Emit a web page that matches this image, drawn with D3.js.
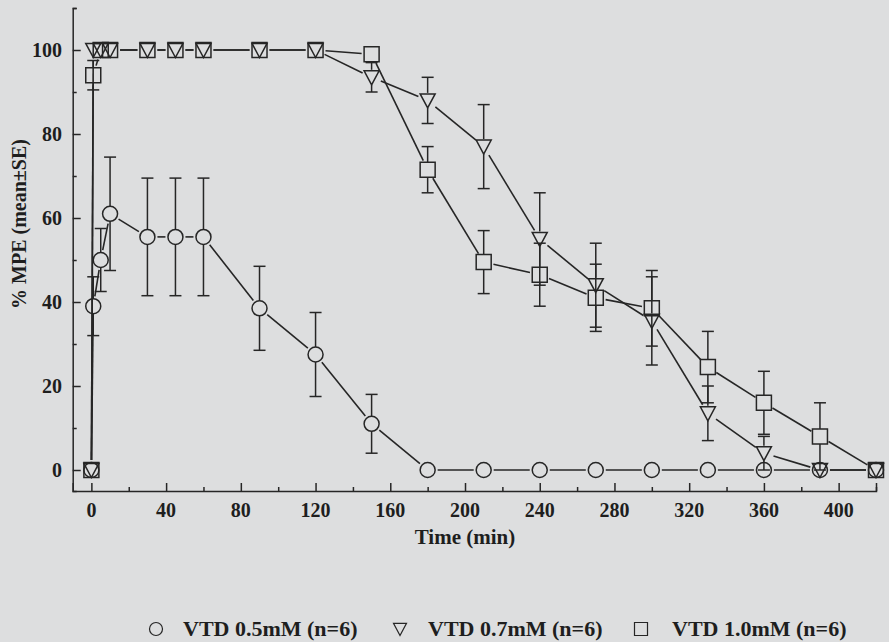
<!DOCTYPE html>
<html>
<head>
<meta charset="utf-8">
<script src="https://cdn.jsdelivr.net/npm/d3@7"></script>
<style>
  html, body { margin: 0; padding: 0; background: #dddedf; }
  svg { display: block; }
  text { font-family: "Liberation Serif", "Times New Roman", serif; font-weight: bold; fill: #1e1e1e; }
</style>
</head>
<body>
<svg></svg>
<script>
// time points (min)
const times = [0, 1, 5, 10, 30, 45, 60, 90, 120, 150, 180, 210, 240, 270, 300, 330, 360, 390, 420];

// VTD 0.5mM
const mpe05 = [0, 39, 50, 61, 55.5, 55.5, 55.5, 38.5, 27.5, 11, 0, 0, 0, 0, 0, 0, 0, 0, 0];
const se05  = [0, 7, 7.5, 13.5, 14, 14, 14, 10, 10, 7, 0, 0, 0, 0, 0, 0, 0, 0, 0];

// VTD 0.7mM
const mpe07 = [0, 100, 100, 100, 100, 100, 100, 100, 100, 93.5, 88, 77, 55, 44, 35.5, 13.5, 4, 0, 0];
const se07  = [0, 0, 0, 0, 0, 0, 0, 0, 0, 3.5, 5.5, 10, 11, 10, 10.5, 6.5, 4, 0, 0];

// VTD 1.0mM
const mpe10 = [0, 94, 100, 100, 100, 100, 100, 100, 100, 99, 71.5, 49.5, 46.5, 41, 38.5, 24.5, 16, 8, 0];
const se10  = [0, 3.5, 0, 0, 0, 0, 0, 0, 0, 0, 5.5, 7.5, 7.5, 8, 9, 8.5, 7.5, 8, 0];

const seriesNames = ['VTD 0.5mM (n=6)', 'VTD 0.7mM (n=6)', 'VTD 1.0mM (n=6)'];
const seriesShapes = ['circle', 'triangle', 'square'];

const xTicksMajor = [0, 40, 80, 120, 160, 200, 240, 280, 320, 360, 400];
const xTicksMinor = [20, 60, 100, 140, 180, 220, 260, 300, 340, 380, 420];
const yTicksMajor = [0, 20, 40, 60, 80, 100];
const yTicksMinor = [10, 30, 50, 70, 90, 110];

const width = 889;
const height = 642;
const ink = '#262626';
const bg = '#dddedf';

const svg = d3.select('svg').attr('width', width).attr('height', height);
svg.append('rect').attr('width', width).attr('height', height).attr('fill', bg);

const x = d3.scaleLinear().domain([-10, 420]).range([72.7, 876]);
const y = d3.scaleLinear().domain([-5, 110]).range([491, 8]);

// axes, ticks pointing inward
const xAxisMajor = d3.axisTop(x).tickValues(xTicksMajor).tickSize(8).tickFormat('');
const xAxisMinor = d3.axisTop(x).tickValues(xTicksMinor).tickSize(4).tickFormat('');
const yAxisMajor = d3.axisRight(y).tickValues(yTicksMajor).tickSize(8).tickFormat('');
const yAxisMinor = d3.axisRight(y).tickValues(yTicksMinor).tickSize(4).tickFormat('');

const gx = svg.append('g').attr('transform', 'translate(0,' + y(-5) + ')');
gx.append('g').call(xAxisMajor);
gx.append('g').call(xAxisMinor);
const gy = svg.append('g').attr('transform', 'translate(' + x(-10) + ',0)');
gy.append('g').call(yAxisMajor);
gy.append('g').call(yAxisMinor);

svg.selectAll('.domain').attr('stroke', ink).attr('stroke-width', 1.5);
svg.selectAll('.tick line').attr('stroke', ink).attr('stroke-width', 1.5);
gx.select('g:last-child .domain').remove();
gy.select('g:last-child .domain').remove();

// tick labels
svg.append('g').selectAll('text')
    .data(xTicksMajor)
    .enter()
    .append('text')
    .attr('x', d => x(d))
    .attr('y', 517)
    .attr('text-anchor', 'middle')
    .style('font-size', '20px')
    .text(d => d);

svg.append('g').selectAll('text')
    .data(yTicksMajor)
    .enter()
    .append('text')
    .attr('x', 62)
    .attr('y', d => y(d) + 6.5)
    .attr('text-anchor', 'end')
    .style('font-size', '20px')
    .text(d => d);

// axis titles
svg.append('text')
    .attr('x', 465)
    .attr('y', 544)
    .attr('text-anchor', 'middle')
    .style('font-size', '21px')
    .text('Time (min)');

svg.append('text')
    .attr('transform', 'translate(26,224) rotate(-90)')
    .attr('text-anchor', 'middle')
    .style('font-size', '20px')
    .text('% MPE (mean\u00B1SE)');

// marker shapes
const r = 7.5;
const shapePath = (shape, s) => {
    if (shape === 'circle') return d3.symbol(d3.symbolCircle, Math.PI * s * s)();
    if (shape === 'square') return 'M' + (-s) + ',' + (-s) + 'H' + s + 'V' + s + 'H' + (-s) + 'Z';
    return 'M' + (-s) + ',' + (-s * 0.87) + 'H' + s + 'L0,' + s + 'Z';
};

const allSeries = [
    { name: seriesNames[0], shape: seriesShapes[0], mean: mpe05, se: se05 },
    { name: seriesNames[1], shape: seriesShapes[1], mean: mpe07, se: se07 },
    { name: seriesNames[2], shape: seriesShapes[2], mean: mpe10, se: se10 }
];

const gap = 10;
allSeries.forEach(s => {
    const pts = times.map((t, i) => ({ px: x(t), py: y(s.mean[i]), v: s.mean[i], e: s.se[i] }));
    const g = svg.append('g');

    // connecting segments, trimmed short of the markers
    const segs = [];
    for (let i = 0; i < pts.length - 1; i++) {
        const a = pts[i], b = pts[i + 1];
        const dx = b.px - a.px, dy = b.py - a.py;
        const len = Math.sqrt(dx * dx + dy * dy);
        if (len <= 2 * gap + 2) continue;
        const ux = dx / len, uy = dy / len;
        segs.push([a.px + ux * gap, a.py + uy * gap, b.px - ux * gap, b.py - uy * gap]);
    }
    g.selectAll('line.seg')
        .data(segs)
        .enter()
        .append('line')
        .attr('class', 'seg')
        .attr('x1', d => d[0]).attr('y1', d => d[1])
        .attr('x2', d => d[2]).attr('y2', d => d[3])
        .attr('stroke', ink)
        .attr('stroke-width', 1.6);

    // error bars, outside the marker only
    const errs = pts.filter(p => p.e > 0);
    errs.forEach(p => {
        const top = y(p.v + p.e), bot = y(p.v - p.e);
        g.append('line').attr('x1', p.px).attr('x2', p.px)
            .attr('y1', top).attr('y2', p.py - r)
            .attr('stroke', ink).attr('stroke-width', 1.5);
        g.append('line').attr('x1', p.px).attr('x2', p.px)
            .attr('y1', p.py + r).attr('y2', bot)
            .attr('stroke', ink).attr('stroke-width', 1.5);
        [top, bot].forEach(cy => {
            g.append('line').attr('x1', p.px - 6).attr('x2', p.px + 6)
                .attr('y1', cy).attr('y2', cy)
                .attr('stroke', ink).attr('stroke-width', 1.5);
        });
    });

    g.selectAll('path.mk')
        .data(pts)
        .enter()
        .append('path')
        .attr('class', 'mk')
        .attr('transform', d => 'translate(' + d.px + ',' + d.py + ')')
        .attr('d', shapePath(s.shape, r))
        .attr('fill', 'none')
        .attr('stroke', ink)
        .attr('stroke-width', 1.5);
});

// legend
const legendX = [156, 400, 641];
const legendTextX = [183, 428, 672];
const legend = svg.append('g');
allSeries.forEach((s, i) => {
    legend.append('path')
        .attr('transform', 'translate(' + legendX[i] + ',629)')
        .attr('d', shapePath(s.shape, 6.5))
        .attr('fill', 'none')
        .attr('stroke', ink)
        .attr('stroke-width', 1.2);
    legend.append('text')
        .attr('x', legendTextX[i])
        .attr('y', 636)
        .style('font-size', '22px')
        .text(s.name);
});
</script>
</body>
</html>
